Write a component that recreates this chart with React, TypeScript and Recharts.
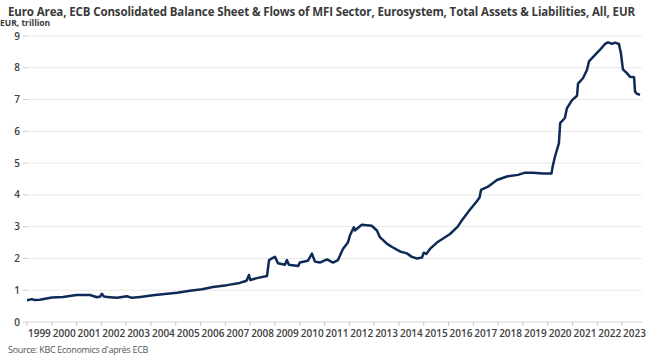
import { LineChart, Line, XAxis, YAxis, CartesianGrid } from "recharts"

const years = [
  1999.0, 1999.2, 1999.3, 1999.52, 2000.0, 2000.45, 2001.0, 2001.54, 2001.82, 2001.95,
  2002.02, 2002.1, 2002.23, 2002.63, 2003.03, 2003.23, 2003.56, 2004.08, 2004.65, 2005.05,
  2005.57, 2006.06, 2006.5, 2007.06, 2007.58, 2007.85, 2007.95, 2008.0, 2008.27, 2008.68,
  2008.76, 2008.88, 2009.0, 2009.12, 2009.4, 2009.48, 2009.56, 2009.93, 2010.0, 2010.33,
  2010.49, 2010.61, 2010.81, 2011.1, 2011.34, 2011.54, 2011.74, 2011.94, 2012.02, 2012.18,
  2012.22, 2012.5, 2012.9, 2013.11, 2013.23, 2013.52, 2013.72, 2014.04, 2014.32, 2014.52,
  2014.73, 2014.93, 2015.0, 2015.1, 2015.25, 2015.53, 2016.06, 2016.37, 2016.54, 2016.86,
  2017.14, 2017.25, 2017.31, 2017.59, 2017.95, 2018.35, 2018.8, 2019.08, 2019.4, 2019.81,
  2020.15, 2020.2, 2020.29, 2020.45, 2020.5, 2020.69, 2020.77, 2020.98, 2021.18, 2021.22,
  2021.42, 2021.58, 2021.66, 2021.9, 2022.1, 2022.31, 2022.43, 2022.59, 2022.71, 2022.87,
  2022.95, 2023.03, 2023.19, 2023.31, 2023.48, 2023.52, 2023.6, 2023.72,
]

// total assets, EUR trillion
const totalAssets = [
  0.68, 0.72, 0.69, 0.7, 0.77, 0.79, 0.85, 0.85, 0.78, 0.8,
  0.89, 0.8, 0.79, 0.76, 0.81, 0.76, 0.79, 0.84, 0.89, 0.92,
  0.98, 1.03, 1.1, 1.16, 1.23, 1.3, 1.48, 1.32, 1.38, 1.45,
  1.95, 2.0, 2.05, 1.85, 1.8, 1.95, 1.8, 1.76, 1.87, 1.93,
  2.15, 1.9, 1.87, 1.97, 1.87, 1.95, 2.3, 2.5, 2.72, 2.98,
  2.88, 3.06, 3.03, 2.88, 2.67, 2.46, 2.36, 2.22, 2.16, 2.05,
  2.0, 2.03, 2.18, 2.14, 2.3, 2.5, 2.77, 3.0, 3.2, 3.53,
  3.8, 3.92, 4.16, 4.26, 4.47, 4.58, 4.63, 4.7, 4.7, 4.67,
  4.67, 4.9, 5.2, 5.63, 6.26, 6.42, 6.72, 6.98, 7.12, 7.5,
  7.67, 7.93, 8.2, 8.4, 8.56, 8.75, 8.8, 8.75, 8.79, 8.75,
  8.46, 7.95, 7.83, 7.72, 7.7, 7.25, 7.18, 7.15,
]

const yearTicks = [
  1999, 2000, 2001, 2002, 2003, 2004, 2005, 2006, 2007, 2008, 2009, 2010, 2011,
  2012, 2013, 2014, 2015, 2016, 2017, 2018, 2019, 2020, 2021, 2022, 2023,
]
const valueTicks = [0, 1, 2, 3, 4, 5, 6, 7, 8, 9]

const data = years.map((t, i) => ({ t, assets: totalAssets[i] }))

const X_MIN = 1999
const X_MAX = 2023.8
const PLOT_LEFT = 27
const PLOT_RIGHT = 10
const WIDTH = 652
const HEIGHT = 362
const pxPerYear = (WIDTH - PLOT_LEFT - PLOT_RIGHT) / (X_MAX - X_MIN)

const FONT = "'Open Sans', 'Noto Sans', sans-serif"

function YearTick(props: any) {
  const { x, y, payload } = props
  return (
    <text
      x={x + pxPerYear / 2}
      y={y}
      dy={9}
      textAnchor="middle"
      fontSize={10}
      fontWeight={600}
      fill="#404040"
      fontFamily={FONT}
    >
      {payload.value}
    </text>
  )
}

export default function App() {
  return (
    <div style={{ position: "absolute", left: 0, top: 0, width: WIDTH, height: HEIGHT, background: "#fff", fontFamily: FONT }}>
      <div style={{ position: "absolute", left: 8, top: 5.5, fontSize: 11.5, lineHeight: 1, letterSpacing: -0.12, fontWeight: 700, color: "#3a3a3a", whiteSpace: "nowrap" }}>
        Euro Area, ECB Consolidated Balance Sheet &amp; Flows of MFI Sector, Eurosystem, Total Assets &amp; Liabilities, All, EUR
      </div>
      <div style={{ position: "absolute", left: 0, top: 19, fontSize: 8.5, lineHeight: 1, fontWeight: 700, color: "#3a3a3a", whiteSpace: "nowrap" }}>
        EUR, trillion
      </div>
      <LineChart
        width={WIDTH}
        height={HEIGHT}
        data={data}
        margin={{ top: 36, right: PLOT_RIGHT, left: 0, bottom: 18 }}
      >
        <CartesianGrid vertical={false} stroke="#e8e8e8" strokeWidth={1} />
        <XAxis
          dataKey="t"
          type="number"
          domain={[X_MIN, X_MAX]}
          ticks={yearTicks}
          height={22}
          axisLine={{ stroke: "#e0e0e0" }}
          tickLine={{ stroke: "#c8c8c8" }}
          tickSize={4}
          tick={<YearTick />}
          interval={0}
          allowDataOverflow
        />
        <YAxis
          width={PLOT_LEFT}
          domain={[0, 9]}
          ticks={valueTicks}
          axisLine={false}
          tickLine={{ stroke: "#c8c8c8" }}
          tickSize={4}
          tickMargin={3}
          tick={{ fontSize: 10, fontWeight: 600, fill: "#404040", fontFamily: FONT }}
          interval={0}
        />
        <Line
          type="linear"
          dataKey="assets"
          stroke="#0e2b57"
          strokeWidth={2.5}
          dot={false}
          strokeLinejoin="round"
          isAnimationActive={false}
        />
      </LineChart>
      <div style={{ position: "absolute", left: 8, top: 345, fontSize: 9, lineHeight: 1, color: "#555", whiteSpace: "nowrap", letterSpacing: -0.3 }}>
        Source: KBC Economics d'après ECB
      </div>
    </div>
  )
}
